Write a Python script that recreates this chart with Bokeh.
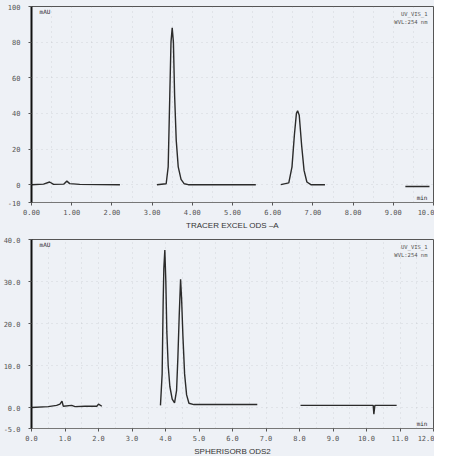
from bokeh.plotting import figure
from bokeh.layouts import column
from bokeh.models import FixedTicker, Label, Title
from bokeh.embed import file_html
from bokeh.resources import INLINE

nan = float("nan")

# ---- top chromatogram: TRACER EXCEL ODS -A ----
top_time = [0.0, 0.3, 0.45, 0.55, 0.8, 0.88, 0.95, 1.2, 2.2, nan,
            3.12, 3.35, 3.40, 3.44, 3.47, 3.50, 3.53, 3.56, 3.60, 3.65, 3.72, 3.80, 3.9, 5.58, nan,
            6.2, 6.40, 6.48, 6.54, 6.59, 6.62, 6.66, 6.72, 6.78, 6.85, 6.95, 7.3, nan,
            9.3, 9.9]
top_mau = [0, 0.3, 1.5, 0.2, 0.3, 2.0, 0.6, 0.2, 0.0, nan,
           0, 0.5, 10, 50, 80, 88, 80, 50, 25, 10, 3, 0.5, 0, 0, nan,
           0, 1, 10, 28, 40, 41.5, 39, 22, 8, 1.5, 0, 0, nan,
           -1, -1]
top_yticks = [-10, 0, 20, 40, 60, 80, 100]
top_xticks = [0, 1, 2, 3, 4, 5, 6, 7, 8, 9, 10]
top_xlabels = ["0.00", "1.00", "2.00", "3.00", "4.00", "5.00", "6.00", "7.00", "8.00", "9.00", "10.0"]

# ---- bottom chromatogram: SPHERISORB ODS2 ----
bot_time = [0.0, 0.5, 0.75, 0.85, 0.91, 0.95, 1.2, 1.3, 1.6, 1.95, 2.0, 2.1, nan,
            3.85, 3.90, 3.93, 3.95, 3.98, 4.01, 4.04, 4.08, 4.13, 4.20, 4.27, 4.33, 4.37, 4.41,
            4.45, 4.48, 4.52, 4.57, 4.63, 4.70, 4.85, 6.74, nan,
            8.03, 10.2, 10.22, 10.25, 10.9]
bot_mau = [0, 0.2, 0.5, 0.8, 1.5, 0.3, 0.5, 0.2, 0.3, 0.3, 0.8, 0.3, nan,
           0.5, 8, 25, 33, 37.5, 30, 18, 10, 5, 2, 1.1, 4, 12, 22,
           30.5, 26, 17, 8, 3, 1, 0.7, 0.7, nan,
           0.5, 0.5, -1.6, 0.5, 0.5]
bot_yticks = [-5, 0, 10, 20, 30, 40]
bot_xticks = [0, 1, 2, 3, 4, 5, 6, 7, 8, 9, 10, 11, 12]
bot_xlabels = ["0.0", "1.0", "2.0", "3.0", "4.0", "5.0", "6.0", "7.0", "8.0", "9.0", "10.0", "11.0", "12.0"]

BG = "#eef1f6"
INK = "#2b2b2b"
LBL = "#555555"
FONT = "DejaVu Sans Mono"


def make(time, mau, xr, yr, xticks, xlabels, yticks, ylabels, width, height,
         borders, title, channel):
    p = figure(width=width, height=height, x_range=xr, y_range=yr,
               output_backend="svg", toolbar_location=None,
               min_border_left=borders[0], min_border_right=borders[1],
               min_border_top=borders[2], min_border_bottom=borders[3])
    p.background_fill_color = BG
    p.border_fill_color = BG
    p.outline_line_color = "#555555"
    p.outline_line_width = 1
    for ax in (p.xaxis[0], p.yaxis[0]):
        ax.major_label_text_font = FONT
        ax.major_label_text_font_size = "7px"
        ax.major_label_text_color = LBL
        ax.minor_tick_line_color = None
        ax.major_tick_line_color = "#555555"
        ax.major_tick_out = 3
        ax.major_tick_in = 0
    p.xaxis.ticker = FixedTicker(ticks=xticks)
    p.xaxis.major_label_overrides = {t: l for t, l in zip(xticks, xlabels)}
    p.xaxis.axis_line_color = "#777777"
    p.xaxis.major_label_standoff = 3
    p.yaxis.ticker = FixedTicker(ticks=yticks)
    p.yaxis.major_label_overrides = {t: l for t, l in zip(yticks, ylabels)}
    p.yaxis.axis_line_color = "#111111"
    p.yaxis.axis_line_width = 2
    p.yaxis.major_label_standoff = 8
    p.xgrid.grid_line_color = "#9aa0aa"
    p.ygrid.grid_line_color = "#9aa0aa"
    p.xgrid.grid_line_dash = "1 4"
    p.ygrid.grid_line_dash = "1 4"
    p.xgrid.grid_line_alpha = 0.35
    p.ygrid.grid_line_alpha = 0.35
    p.xgrid.ticker = FixedTicker(ticks=[t + 0.5 for t in xticks[:-1]] + xticks)
    p.line(time, mau, line_color=INK, line_width=1.4)

    span_y = yr[1] - yr[0]
    p.add_layout(Label(x=xr[0] + 0.02 * (xr[1] - xr[0]), y=yr[1] - 0.01 * span_y, text="mAU",
                       text_font=FONT, text_font_size="6px", text_color=INK,
                       text_baseline="top", text_align="left"))
    p.add_layout(Label(x=xr[1] - 0.015 * (xr[1] - xr[0]), y=yr[1] - 0.025 * span_y, text=channel[0],
                       text_font=FONT, text_font_size="5.5px", text_color=LBL,
                       text_baseline="top", text_align="right"))
    p.add_layout(Label(x=xr[1] - 0.015 * (xr[1] - xr[0]), y=yr[1] - 0.065 * span_y, text=channel[1],
                       text_font=FONT, text_font_size="5.5px", text_color=LBL,
                       text_baseline="top", text_align="right"))
    p.add_layout(Label(x=xr[1] - 0.015 * (xr[1] - xr[0]), y=yr[0] + 0.01 * span_y, text="min",
                       text_font=FONT, text_font_size="6px", text_color=INK,
                       text_baseline="bottom", text_align="right"))
    t = Title(text=title, align="center", text_font="Liberation Sans",
              text_font_size="8px", text_font_style="normal", text_color="#333333",
              standoff=2)
    p.add_layout(t, "below")
    return p


top = make(top_time, top_mau, (0, 10), (-10, 100), top_xticks, top_xlabels,
           top_yticks, [str(v) for v in top_yticks], 434, 230, (25, 1, 6, 28),
           "TRACER EXCEL ODS \u2013A", ("UV_VIS_1", "WVL:254 nm"))
bot = make(bot_time, bot_mau, (0, 12), (-5, 40), bot_xticks, bot_xlabels,
           bot_yticks, ["%.1f" % v for v in bot_yticks], 434, 226, (31, 1, 9, 23),
           "SPHERISORB ODS2", ("UV_VIS_1", "WVL:254 nm"))

layout = column(top, bot, spacing=0)
layout.styles = {"background-color": BG}
open("out.html", "w").write(file_html(layout, INLINE))
